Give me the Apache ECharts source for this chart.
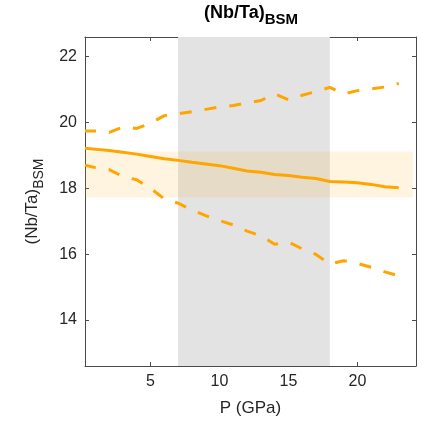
<!DOCTYPE html>
<html>
<head>
<meta charset="utf-8">
<script src="https://cdn.jsdelivr.net/npm/echarts@6/dist/echarts.min.js"></script>
<style>
  html, body { margin: 0; padding: 0; background: #fff; }
  #chart { width: 423px; height: 422px; }
</style>
</head>
<body>
<div id="chart"></div>
<script>
// Pressure samples (GPa)
const pressure = [0.25, 1, 2, 3, 4, 5, 6, 7, 8, 9, 10, 11, 12, 13, 14, 15, 16, 17, 18, 19, 20, 21, 22, 23];
// Mean (Nb/Ta)_BSM
const meanRatio = [19.22, 19.19, 19.15, 19.10, 19.04, 18.97, 18.90, 18.85, 18.79, 18.74, 18.69, 18.61, 18.53, 18.49, 18.42, 18.39, 18.34, 18.30, 18.21, 18.19, 18.17, 18.12, 18.05, 18.02];
// Upper and lower envelopes
const upperRatio = [19.74, 19.74, 19.70, 19.86, 19.82, 19.98, 20.21, 20.27, 20.33, 20.40, 20.47, 20.52, 20.60, 20.67, 20.87, 20.69, 20.83, 20.94, 21.07, 20.87, 20.97, 21.02, 21.08, 21.19];
const lowerRatio = [18.70, 18.63, 18.57, 18.36, 18.26, 18.00, 17.68, 17.55, 17.34, 17.17, 17.02, 16.89, 16.70, 16.56, 16.30, 16.37, 16.16, 15.99, 15.70, 15.80, 15.72, 15.60, 15.46, 15.34];

// Axis extents and ticks
const xRange = [0.25, 24.25];
const yRange = [12.6, 22.6];
const xTicks = [5, 10, 15, 20];
const yTicks = [14, 16, 18, 20, 22];

// Shaded pressure interval and observed BSM ratio band
const shadedPressure = [7, 18];
const bsmRatioBand = [17.72, 19.12];
const bsmBandPressure = [0.25, 24.03];

const FONT = '"Liberation Sans", Helvetica, Arial, sans-serif';
const INK = '#262626';
const ORANGE = '#FFA500';
const AXIS_GREY = '#4a4a4a';

const pairs = (ys) => pressure.map((p, i) => [p, ys[i]]);

const axisCommon = {
  type: 'value',
  splitLine: { show: false },
  axisLine: { show: true, onZero: false, lineStyle: { color: AXIS_GREY, width: 1 } },
};

const chart = echarts.init(document.getElementById('chart'), null, { renderer: 'canvas' });

chart.setOption({
  animation: false,
  backgroundColor: '#fff',
  grid: { left: 85, right: 7, top: 37, bottom: 53, containLabel: false },
  graphic: [{
    type: 'text',
    x: 251,
    y: 20,
    style: {
      text: '{m|(Nb/Ta)}{s|BSM}',
      align: 'center',
      verticalAlign: 'middle',
      fill: '#000',
      rich: {
        m: { fontFamily: FONT, fontSize: 18, fontWeight: 'bold', fill: '#000', lineHeight: 22, verticalAlign: 'top' },
        s: { fontFamily: FONT, fontSize: 15, fontWeight: 'bold', fill: '#000', lineHeight: 32 }
      }
    }
  }],
  xAxis: [
    Object.assign({}, axisCommon, {
      position: 'bottom',
      min: xRange[0], max: xRange[1],
      name: 'P (GPa)',
      nameLocation: 'middle',
      nameGap: 34,
      nameTextStyle: { fontFamily: FONT, fontSize: 17, color: INK },
      axisTick: { show: true, inside: true, length: 4, customValues: xTicks, lineStyle: { color: AXIS_GREY } },
      axisLabel: { show: true, customValues: xTicks, margin: 8, fontFamily: FONT, fontSize: 16, color: INK }
    }),
    Object.assign({}, axisCommon, {
      position: 'top',
      min: xRange[0], max: xRange[1],
      axisTick: { show: true, inside: true, length: 4, customValues: xTicks, lineStyle: { color: AXIS_GREY } },
      axisLabel: { show: false }
    })
  ],
  yAxis: [
    Object.assign({}, axisCommon, {
      position: 'left',
      min: yRange[0], max: yRange[1],
      name: '{m|(Nb/Ta)}{s|BSM}',
      nameLocation: 'middle',
      nameRotate: 90,
      nameGap: 31,
      nameTextStyle: {
        color: INK,
        rich: {
          m: { fontFamily: FONT, fontSize: 17, color: INK, lineHeight: 20, verticalAlign: 'top' },
          s: { fontFamily: FONT, fontSize: 14, color: INK, lineHeight: 30 }
        }
      },
      axisTick: { show: true, inside: true, length: 4, customValues: yTicks, lineStyle: { color: AXIS_GREY } },
      axisLabel: { show: true, customValues: yTicks, margin: 8, fontFamily: FONT, fontSize: 16, color: INK }
    }),
    Object.assign({}, axisCommon, {
      position: 'right',
      min: yRange[0], max: yRange[1],
      axisTick: { show: true, inside: true, length: 4, customValues: yTicks, lineStyle: { color: AXIS_GREY } },
      axisLabel: { show: false }
    })
  ],
  series: [
    {
      name: 'pressure window',
      type: 'line',
      data: [],
      z: 1,
      silent: true,
      markArea: {
        silent: true,
        itemStyle: { color: '#e3e3e3' },
        data: [[{ xAxis: shadedPressure[0] }, { xAxis: shadedPressure[1] }]]
      }
    },
    {
      name: 'BSM band',
      type: 'line',
      data: [],
      z: 2,
      silent: true,
      markArea: {
        silent: true,
        itemStyle: { color: 'rgba(255,165,0,0.12)' },
        data: [[{ coord: [bsmBandPressure[0], bsmRatioBand[0]] }, { coord: [bsmBandPressure[1], bsmRatioBand[1]] }]]
      }
    },
    {
      name: 'upper',
      type: 'line',
      data: pairs(upperRatio),
      showSymbol: false,
      z: 3,
      lineStyle: { color: ORANGE, width: 3, type: [12, 13], dashOffset: 1 }
    },
    {
      name: 'lower',
      type: 'line',
      data: pairs(lowerRatio),
      showSymbol: false,
      z: 3,
      lineStyle: { color: ORANGE, width: 3, type: [12, 13], dashOffset: 1 }
    },
    {
      name: 'mean',
      type: 'line',
      data: pairs(meanRatio),
      showSymbol: false,
      z: 4,
      lineStyle: { color: ORANGE, width: 3 }
    }
  ]
});
</script>
</body>
</html>
